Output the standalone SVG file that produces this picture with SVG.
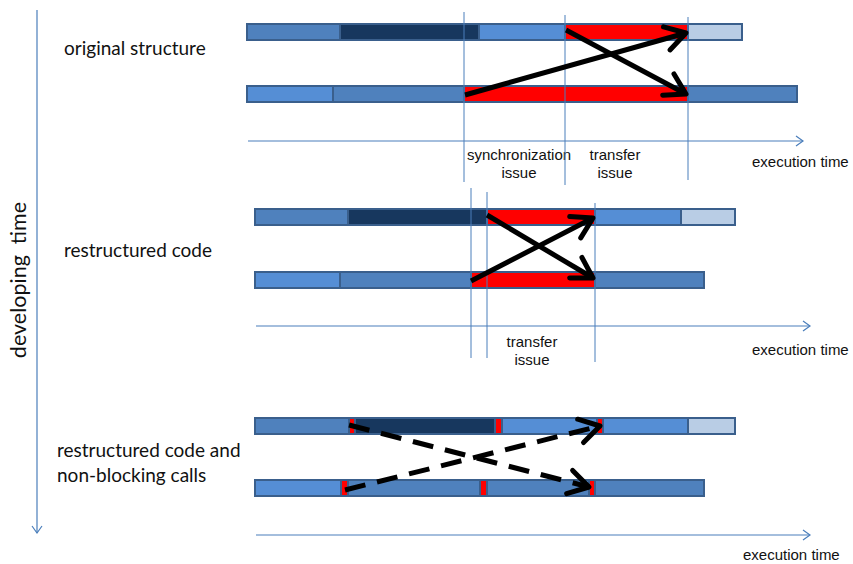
<svg xmlns="http://www.w3.org/2000/svg" width="853" height="564" viewBox="0 0 853 564">
  <style>
    .seg { stroke: #3a5f8c; stroke-width: 2; }
    .mid { fill: #4f81bd; }
    .dark { fill: #17375e; }
    .light { fill: #558ed5; }
    .pale { fill: #b9cde5; }
    .red { fill: #ff0000; }
    .axis { stroke: #4a7ebb; stroke-width: 1.2; fill: none; }
    .guide { stroke: #4a7ebb; stroke-width: 1; fill: none; }
    .msg { stroke: #000; stroke-width: 5; fill: none; }
    .dash { stroke-dasharray: 21 12; }
    .lbl { font-family: "Lato", "Liberation Sans", sans-serif; font-size: 19px; fill: #111; }
    .vert { font-size: 21.5px; }
    .small { font-family: "Liberation Sans", Arial, sans-serif; font-size: 15px; fill: #111; }
  </style>
  <defs>
    <marker id="head" markerUnits="userSpaceOnUse" viewBox="-26 -16 30 32" markerWidth="30" markerHeight="32" refX="0" refY="0" orient="auto">
      <path d="M -20 -12 L 0 0 L -20 12" fill="none" stroke="#000" stroke-width="5" stroke-linecap="round" stroke-linejoin="round" stroke-dasharray="none"/>
    </marker>
    <marker id="tick" markerUnits="userSpaceOnUse" viewBox="-10 -7 12 14" markerWidth="12" markerHeight="14" refX="0" refY="0" orient="auto">
      <path d="M -7 -5 L 0 0 L -7 5" fill="none" stroke="#4a7ebb" stroke-width="1.2"/>
    </marker>
  </defs>

  <!-- development time axis -->
  <g id="dev-axis">
    <line class="axis" x1="37" y1="10" x2="37" y2="533" marker-end="url(#tick)"/>
    <text class="lbl vert" transform="translate(26 280) rotate(-90)" text-anchor="middle" xml:space="preserve">developing  time</text>
  </g>

  <!-- variant 1: original structure -->
  <g id="original">
    <text class="lbl" x="64" y="55">original structure</text>
    <g id="orig-p0">
      <rect class="seg mid" x="247" y="24" width="93" height="16"/>
      <rect class="seg dark" x="340" y="24" width="139" height="16"/>
      <rect class="seg light" x="479" y="24" width="86" height="16"/>
      <rect class="seg red" x="565" y="24" width="123" height="16" stroke="none"/>
      <rect class="seg pale" x="688" y="24" width="54" height="16"/>
    </g>
    <g id="orig-p1">
      <rect class="seg light" x="247" y="86" width="86" height="16"/>
      <rect class="seg mid" x="333" y="86" width="131" height="16"/>
      <rect class="seg red" x="464" y="86" width="224" height="16" stroke="none"/>
      <rect class="seg mid" x="688" y="86" width="109" height="16"/>
    </g>
    <g id="orig-axis">
      <line class="axis" x1="248" y1="141" x2="803" y2="141" marker-end="url(#tick)"/>
      <text class="small" x="752" y="167">execution time</text>
      <text class="small" x="519" y="160" text-anchor="middle">synchronization</text>
      <text class="small" x="519" y="178" text-anchor="middle">issue</text>
      <text class="small" x="615" y="160" text-anchor="middle">transfer</text>
      <text class="small" x="615" y="178" text-anchor="middle">issue</text>
    </g>
  </g>

  <!-- variant 2: restructured code -->
  <g id="restructured">
    <text class="lbl" x="64" y="257">restructured code</text>
    <g id="rest-p0">
      <rect class="seg mid" x="255" y="209" width="93" height="16"/>
      <rect class="seg dark" x="348" y="209" width="139" height="16"/>
      <rect class="seg red" x="487" y="209" width="108" height="16" stroke="none"/>
      <rect class="seg light" x="595" y="209" width="86" height="16"/>
      <rect class="seg pale" x="681" y="209" width="54" height="16"/>
    </g>
    <g id="rest-p1">
      <rect class="seg light" x="255" y="272" width="85" height="16"/>
      <rect class="seg mid" x="340" y="272" width="131" height="16"/>
      <rect class="seg red" x="471" y="272" width="124" height="16" stroke="none"/>
      <rect class="seg mid" x="595" y="272" width="109" height="16"/>
    </g>
    <g id="rest-axis">
      <line class="axis" x1="256" y1="326" x2="810" y2="326" marker-end="url(#tick)"/>
      <text class="small" x="752" y="355">execution time</text>
      <text class="small" x="532" y="347" text-anchor="middle">transfer</text>
      <text class="small" x="532" y="365" text-anchor="middle">issue</text>
    </g>
  </g>

  <!-- variant 3: restructured code and non-blocking calls -->
  <g id="nonblocking">
    <text class="lbl" x="57" y="457">restructured code and</text>
    <text class="lbl" x="57" y="482">non-blocking calls</text>
    <g id="nb-p0">
      <rect class="seg mid" x="255" y="418" width="94" height="16"/>
      <rect class="seg red" x="349" y="418" width="6" height="16"/>
      <rect class="seg dark" x="355" y="418" width="140" height="16"/>
      <rect class="seg red" x="495" y="418" width="7" height="16"/>
      <rect class="seg light" x="502" y="418" width="95" height="16"/>
      <rect class="seg red" x="597" y="418" width="6" height="16"/>
      <rect class="seg light" x="603" y="418" width="85" height="16"/>
      <rect class="seg pale" x="688" y="418" width="47" height="16"/>
    </g>
    <g id="nb-p1">
      <rect class="seg light" x="255" y="480" width="86" height="16"/>
      <rect class="seg red" x="341" y="480" width="7" height="16"/>
      <rect class="seg mid" x="348" y="480" width="132" height="16"/>
      <rect class="seg red" x="480" y="480" width="7" height="16"/>
      <rect class="seg mid" x="487" y="480" width="102" height="16"/>
      <rect class="seg red" x="589" y="480" width="6" height="16"/>
      <rect class="seg mid" x="595" y="480" width="109" height="16"/>
    </g>
    <g id="nb-axis">
      <line class="axis" x1="256" y1="535" x2="810" y2="535" marker-end="url(#tick)"/>
      <text class="small" x="743" y="560">execution time</text>
    </g>
  </g>

  <!-- guide lines marking issue intervals -->
  <g id="guides">
    <line class="guide" x1="464" y1="12" x2="464" y2="182"/>
    <line class="guide" x1="565" y1="15" x2="565" y2="185"/>
    <line class="guide" x1="688" y1="17" x2="688" y2="180"/>
    <line class="guide" x1="471" y1="188" x2="471" y2="358"/>
    <line class="guide" x1="487" y1="192" x2="487" y2="358"/>
    <line class="guide" x1="595" y1="203" x2="595" y2="362"/>
  </g>

  <!-- message transfers between processes -->
  <g id="connectors">
    <line class="msg" x1="465" y1="95" x2="686" y2="33" marker-end="url(#head)"/>
    <line class="msg" x1="566" y1="30" x2="686" y2="94" marker-end="url(#head)"/>
    <line class="msg" x1="471" y1="281" x2="593" y2="218" marker-end="url(#head)"/>
    <line class="msg" x1="487" y1="215" x2="593" y2="278" marker-end="url(#head)"/>
    <line class="msg dash" x1="349" y1="425" x2="589" y2="487" marker-end="url(#head)"/>
    <line class="msg dash" x1="345" y1="490" x2="600" y2="426" marker-end="url(#head)"/>
  </g>
</svg>
